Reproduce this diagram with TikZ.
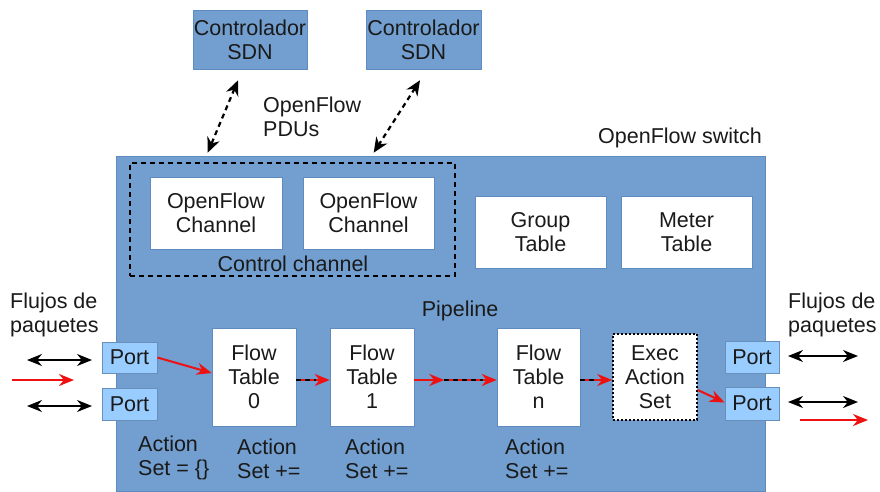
\documentclass[tikz,border=0pt]{standalone}
\usepackage{fontspec}
\setmainfont{Liberation Sans}
\usetikzlibrary{arrows.meta,calc}
\definecolor{swblue}{HTML}{729FCF}
\definecolor{swborder}{HTML}{5E8CC0}
\definecolor{portblue}{HTML}{99CCFF}
\definecolor{txt}{HTML}{1A1A1A}
\definecolor{redarr}{HTML}{EE1111}
\begin{document}
\begin{tikzpicture}[x=1pt,y=-1pt,
  every node/.style={text=txt, font=\fontsize{21.5}{24}\selectfont},
  wbox/.style={draw=swborder, fill=white, line width=0.6pt, align=center, inner sep=0pt},
  bluebox/.style={draw=swborder, fill=swblue, line width=0.6pt, align=center, inner sep=0pt},
  portbox/.style={draw=swblue!90!black, fill=portblue, line width=0.8pt, align=center, inner sep=0pt},
  lbl/.style={align=left, inner sep=0pt, anchor=west},
  ctrlarrow/.style={draw=black, line width=2.2pt, dash pattern=on 5pt off 4pt, {Stealth[length=15pt,width=13pt]}-{Stealth[length=15pt,width=13pt]}},
  dblarrow/.style={draw=black, line width=1.8pt, {Stealth[length=15pt,width=12pt]}-{Stealth[length=15pt,width=12pt]}},
  redarrow/.style={draw=redarr, line width=2pt, -{Stealth[length=15pt,width=12pt]}},
  blackdash/.style={draw=black, line width=2pt, dash pattern=on 5pt off 4pt}
]
\useasboundingbox (0,0) rectangle (880,491);
\fill[white] (0,0) rectangle (880,491);

% switch
\node[bluebox, minimum width=649pt, minimum height=335pt] (sw) at (440.5,323.5) {};

% controllers
\node[bluebox, minimum width=114pt, minimum height=59pt] (ctrl1) at (250,39.5) {Controlador\\SDN};
\node[bluebox, minimum width=115pt, minimum height=59pt] (ctrl2) at (423.5,39.5) {Controlador\\SDN};

% labels
\node[lbl] (pdus) at (263,117) {OpenFlow\\PDUs};
\node[inner sep=0pt] (swlbl) at (680,138) {OpenFlow switch};

% control channel
\node[draw=black, line width=2.5pt, dash pattern=on 5pt off 4pt, minimum width=325pt, minimum height=113pt, inner sep=0pt] (ctrlch) at (292.5,219.5) {};
\node[wbox, minimum width=132pt, minimum height=72pt] (och1) at (216,213) {OpenFlow\\Channel};
\node[wbox, minimum width=131pt, minimum height=72pt] (och2) at (368.5,213) {OpenFlow\\Channel};
\node[inner sep=0pt] (cclbl) at (293,264) {Control channel};

\node[wbox, minimum width=131pt, minimum height=72pt] (group) at (540.5,232) {Group\\Table};
\node[wbox, minimum width=131pt, minimum height=72pt] (meter) at (686.5,232) {Meter\\Table};

\node[inner sep=0pt] (pipe) at (460,311) {Pipeline};

% controller arrows
\draw[ctrlarrow] ($(ctrl1.south)+(-12,11)$) -- ($(sw.north west)+(92,-3)$);
\draw[ctrlarrow] ($(ctrl2.south)+(-3.5,11)$) -- ($(sw.north west)+(258,-3)$);

% ports
\node[portbox, minimum width=55pt, minimum height=31pt] (pl1) at (129.5,357.5) {Port};
\node[portbox, minimum width=55pt, minimum height=32pt] (pl2) at (129.5,404) {Port};
\node[portbox, minimum width=54pt, minimum height=32pt] (pr1) at (752,357) {Port};
\node[portbox, minimum width=54pt, minimum height=33pt] (pr2) at (752,403.5) {Port};

% tables
\node[wbox, minimum width=84pt, minimum height=98pt] (ft0) at (254,377) {Flow\\Table\\0};
\node[wbox, minimum width=84pt, minimum height=98pt] (ft1) at (372,377) {Flow\\Table\\1};
\node[wbox, minimum width=83pt, minimum height=98pt] (ftn) at (538.5,377) {Flow\\Table\\n};
\node[wbox, draw=black, line width=1.5pt, dash pattern=on 2pt off 2pt, minimum width=84pt, minimum height=86pt] (exec) at (655,377) {Exec\\Action\\Set};

% action labels
\node[lbl] (a0) at (138,458) {Action\\Set = \{\}};
\node[lbl] (a1) at (237,459) {Action\\Set +=};
\node[lbl] (a2) at (345,459) {Action\\Set +=};
\node[lbl] (a3) at (505,459) {Action\\Set +=};

% flujos
\node[lbl] (fl) at (10,315) {Flujos de\\paquetes};
\node[lbl] (fr) at (788,315) {Flujos de\\paquetes};

% external arrows
\coordinate (l1a) at (27,360); \coordinate (l1b) at (92,360);
\coordinate (l2a) at (12,380); \coordinate (l2b) at (74,380);
\coordinate (l3a) at (27,406); \coordinate (l3b) at (92,406);
\coordinate (r1a) at (788,356); \coordinate (r1b) at (858,356);
\coordinate (r2a) at (788,402); \coordinate (r2b) at (858,402);
\coordinate (r3a) at (800,420); \coordinate (r3b) at (868,420);
\draw[dblarrow] (l1a) -- (l1b);
\draw[redarrow] (l2a) -- (l2b);
\draw[dblarrow] (l3a) -- (l3b);
\draw[dblarrow] (r1a) -- (r1b);
\draw[dblarrow] (r2a) -- (r2b);
\draw[redarrow] (r3a) -- (r3b);

% pipeline arrows
\draw[redarrow] (pl1.east) -- ([yshift=4pt]ft0.west);
\draw[redarrow] ([yshift=-3pt]ft0.east) -- ([yshift=-3pt]ft1.west);
\draw[blackdash] ([yshift=-3pt]ft0.east) -- ([yshift=-3pt,xshift=-14pt]ft1.west);
\coordinate (mid) at ($([yshift=-3pt]ft1.east)+(30,0)$);
\draw[redarrow] ([yshift=-3pt]ft1.east) -- (mid);
\draw[redarrow] (mid) -- ([yshift=-3pt]ftn.west);
\draw[blackdash] (mid) -- ([yshift=-3pt,xshift=-14pt]ftn.west);
\draw[redarrow] ([yshift=-3pt]ftn.east) -- ([yshift=-3pt]exec.west);
\draw[blackdash] ([yshift=-3pt]ftn.east) -- ([yshift=-3pt,xshift=-14pt]exec.west);
\draw[redarrow] ([yshift=-13pt]exec.east) -- ([yshift=1pt]pr2.west);
\end{tikzpicture}
\end{document}
